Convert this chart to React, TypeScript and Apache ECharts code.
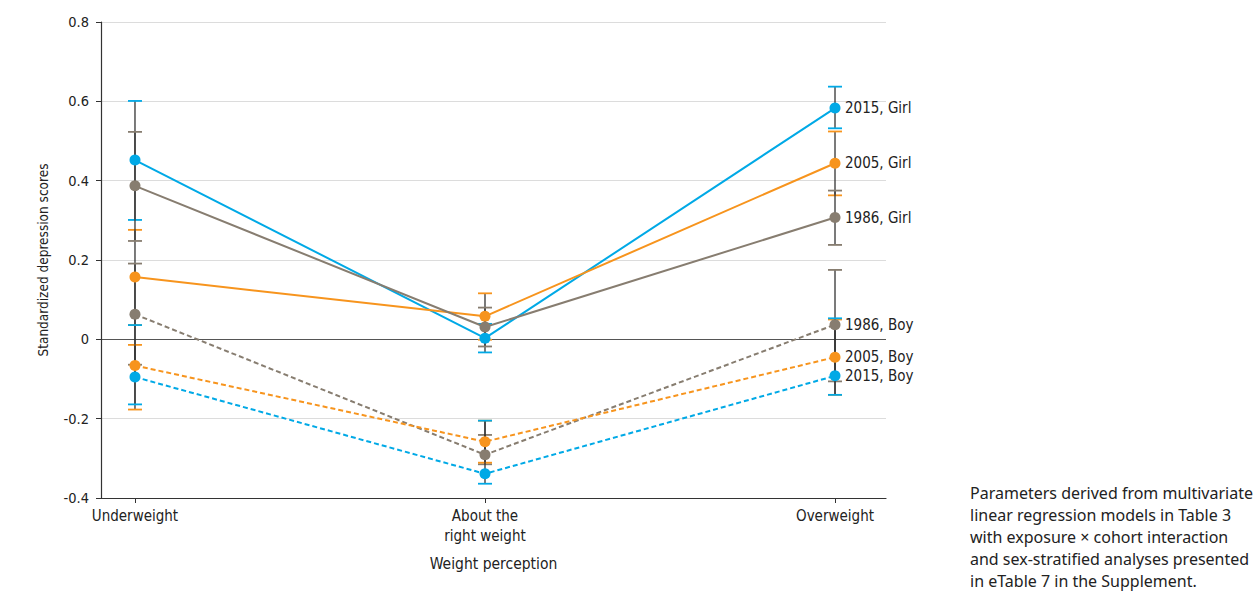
import React, { useEffect, useRef } from "react";
import * as echarts from "echarts";

const categories = ["Underweight", "About the\nright weight", "Overweight"];
const yTicks = [-0.4, -0.2, 0, 0.2, 0.4, 0.6, 0.8];

// group names, colours, point estimates and confidence limits
const names = ["2015, Girl", "2005, Girl", "1986, Girl", "1986, Boy", "2005, Boy", "2015, Boy"];
const colors = ["#00a9e6", "#f7941d", "#877d70", "#877d70", "#f7941d", "#00a9e6"];
const dashed = [false, false, false, true, true, true];

const girl2015 = [0.452, 0.003, 0.583];
const girl2005 = [0.157, 0.058, 0.444];
const girl1986 = [0.387, 0.031, 0.307];
const boy1986 = [0.063, -0.291, 0.037];
const boy2005 = [-0.066, -0.258, -0.045];
const boy2015 = [-0.095, -0.339, -0.092];

const girl2015Low = [0.301, -0.033, 0.532];
const girl2015High = [0.601, 0.039, 0.637];
const girl2005Low = [0.036, -0.001, 0.363];
const girl2005High = [0.276, 0.116, 0.524];
const girl1986Low = [0.248, -0.018, 0.238];
const girl1986High = [0.523, 0.080, 0.375];
const boy1986Low = [-0.064, -0.315, -0.106];
const boy1986High = [0.191, -0.241, 0.175];
const boy2005Low = [-0.177, -0.311, -0.14];
const boy2005High = [-0.014, -0.205, 0.05];
const boy2015Low = [-0.164, -0.364, -0.14];
const boy2015High = [0.036, -0.205, 0.053];

const values = [girl2015, girl2005, girl1986, boy1986, boy2005, boy2015];
const lows = [girl2015Low, girl2005Low, girl1986Low, boy1986Low, boy2005Low, boy2015Low];
const highs = [girl2015High, girl2005High, girl1986High, boy1986High, boy2005High, boy2015High];

const footnote = [
  "Parameters derived from multivariate",
  "linear regression models in Table 3",
  "with exposure × cohort interaction",
  "and sex-stratified analyses presented",
  "in eTable 7 in the Supplement.",
];

const FONT = "'DejaVu Sans Condensed', 'DejaVu Sans', sans-serif";

export default function App() {
  const ref = useRef<HTMLDivElement>(null);
  useEffect(() => {
    if (!ref.current) return;
    const chart = echarts.init(ref.current, null, { renderer: "svg" });

    const errorSeries = names.map((name, i) => ({
      type: "custom",
      name: name + " CI",
      z: 1,
      data: categories.map((_, k) => [k, lows[i][k], highs[i][k]]),
      renderItem: (params: any, api: any) => {
        const x = api.value(0);
        const pLo = api.coord([x, api.value(1)]);
        const pHi = api.coord([x, api.value(2)]);
        const hw = 7;
        return {
          type: "group",
          children: [
            { type: "line", shape: { x1: pLo[0], y1: pLo[1], x2: pHi[0], y2: pHi[1] }, style: { stroke: "#333", lineWidth: 1.3 } },
            { type: "line", shape: { x1: pLo[0] - hw, y1: pLo[1], x2: pLo[0] + hw, y2: pLo[1] }, style: { stroke: colors[i], lineWidth: 1.8 } },
            { type: "line", shape: { x1: pHi[0] - hw, y1: pHi[1], x2: pHi[0] + hw, y2: pHi[1] }, style: { stroke: colors[i], lineWidth: 1.8 } },
          ],
        };
      },
    }));

    const lineSeries = names.map((name, i) => ({
      type: "line",
      name,
      z: 3,
      data: values[i].map((v, k) => [k, v]),
      symbol: "circle",
      symbolSize: 11,
      itemStyle: { color: colors[i] },
      lineStyle: { color: colors[i], width: 2, type: dashed[i] ? [5, 3] : "solid" },
      endLabel: { show: true, formatter: name, color: "#222", fontSize: 15, fontFamily: FONT, distance: 10 },
      emphasis: { disabled: true },
      ...(i === 0
        ? {
            markLine: {
              silent: true,
              symbol: "none",
              label: { show: false },
              lineStyle: { color: "#555", width: 1.2, type: "solid" },
              data: [{ yAxis: 0 }],
              z: 0,
            },
          }
        : {}),
    }));

    chart.setOption({
      animation: false,
      grid: { left: 101, top: 22, right: 374, bottom: 96, containLabel: false },
      xAxis: {
        type: "value",
        min: -0.0971,
        max: 2.1457,
        name: "Weight perception",
        nameLocation: "middle",
        nameGap: 58,
        nameTextStyle: { color: "#222", fontSize: 15.5, fontFamily: FONT },
        axisLine: { show: true, onZero: false, lineStyle: { color: "#333", width: 1.2 } },
        axisTick: { show: true, customValues: [0, 1, 2], length: 5, lineStyle: { color: "#333" } },
        splitLine: { show: false },
        axisLabel: {
          customValues: [0, 1, 2],
          formatter: (v: number) => categories[Math.round(v)] ?? "",
          color: "#222",
          fontSize: 15,
          fontFamily: FONT,
          lineHeight: 20,
          margin: 8,
        },
      },
      yAxis: {
        type: "value",
        min: -0.4,
        max: 0.8,
        interval: 0.2,
        name: "Standardized depression scores",
        nameLocation: "middle",
        nameGap: 51,
        nameTextStyle: { color: "#222", fontSize: 13.5, fontFamily: FONT },
        axisLine: { show: true, onZero: false, lineStyle: { color: "#333", width: 1.2 } },
        axisTick: { show: true, length: 5, lineStyle: { color: "#333" } },
        splitLine: { show: true, lineStyle: { color: "#dcdcdc", width: 1 } },
        axisLabel: {
          color: "#222",
          fontSize: 14.5,
          fontFamily: FONT,
          margin: 12,
          formatter: (v: number) => {
            const r = Math.round(v * 10) / 10;
            return yTicks.includes(r) ? String(r) : "";
          },
        },
      },
      graphic: [
        {
          type: "group",
          left: 970,
          top: 485,
          children: footnote.map((t, k) => ({
            type: "text",
            x: 0,
            y: k * 22,
            style: { text: t, fill: "#222", fontSize: 16, fontFamily: "'Noto Sans', sans-serif" },
          })),
        },
      ],
      series: [...errorSeries, ...lineSeries],
    });

    return () => chart.dispose();
  }, []);

  return (
    <div
      ref={ref}
      style={{ position: "fixed", left: 0, top: 0, width: 1260, height: 594, background: "#fff" }}
    />
  );
}
